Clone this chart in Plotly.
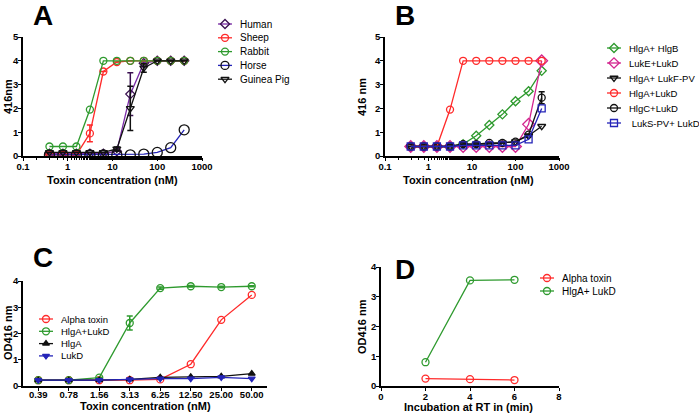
import plotly.graph_objects as go

# ---------------- data ----------------
conc_ab = [0.39, 0.78, 1.56, 3.125, 6.25, 12.5, 25, 50, 100, 200, 400]

a_human = [0.1, 0.1, 0.1, 0.1, 0.1, 0.2, 2.6, 3.9, 4.0, 4.0, 4.0]
a_human_err = [0, 0, 0, 0, 0, 0, 0.9, 0.05, 0, 0, 0]
a_sheep = [0.05, 0.05, 0.05, 0.95, 3.55, 3.95, 4.0, 4.0, 4.0, 4.0, 4.0]
a_sheep_err = [0, 0, 0, 0.35, 0, 0, 0, 0, 0, 0, 0]
a_rabbit = [0.4, 0.4, 0.4, 1.95, 4.0, 4.0, 4.0, 4.0, 4.0, 4.0, 4.0]
a_horse = [0.05, 0.05, 0.05, 0.05, 0.05, 0.05, 0.05, 0.08, 0.15, 0.35, 1.1]
a_guinea = [0.15, 0.15, 0.15, 0.15, 0.15, 0.3, 2.0, 3.7, 4.0, 4.0, 4.0]
a_guinea_err = [0, 0, 0, 0, 0, 0.08, 0.93, 0.18, 0, 0, 0]

b_hlga_hlgb = [0.4, 0.4, 0.4, 0.4, 0.5, 0.85, 1.3, 1.75, 2.3, 2.72, 3.58]
b_luke_lukd = [0.4, 0.4, 0.4, 0.4, 0.4, 0.4, 0.4, 0.4, 0.4, 1.33, 4.0]
b_hlga_lukfpv = [0.4, 0.4, 0.4, 0.4, 0.5, 0.5, 0.5, 0.55, 0.6, 0.85, 1.25]
b_hlga_lukd = [0.4, 0.4, 0.4, 1.95, 4.0, 4.0, 4.0, 4.0, 4.0, 4.0, 4.0]
b_hlgc_lukd = [0.4, 0.4, 0.4, 0.4, 0.5, 0.5, 0.55, 0.55, 0.6, 0.9, 2.45]
b_hlgc_lukd_err = [0, 0, 0, 0, 0, 0, 0, 0, 0, 0, 0.25]
b_luks_lukd = [0.4, 0.4, 0.4, 0.4, 0.45, 0.45, 0.45, 0.45, 0.45, 0.7, 2.0]

c_categories = ["0.39", "0.78", "1.56", "3.13", "6.25", "12.50", "25.00", "50.00"]
c_alpha = [0.22, 0.22, 0.22, 0.22, 0.25, 0.83, 2.52, 3.47]
c_hlga_lukd = [0.22, 0.22, 0.32, 2.4, 3.73, 3.8, 3.77, 3.8]
c_hlga_lukd_err = [0, 0, 0, 0.27, 0.04, 0.03, 0.03, 0.02]
c_hlga = [0.22, 0.22, 0.22, 0.25, 0.33, 0.35, 0.37, 0.47]
c_lukd = [0.22, 0.22, 0.22, 0.25, 0.28, 0.28, 0.33, 0.28]

d_time = [2, 4, 6]
d_alpha = [0.25, 0.23, 0.2]
d_hlga_lukd = [0.8, 3.55, 3.57]

# ---------------- styles ----------------
RED = "#FF2A2A"
GREEN = "#2E9A2E"
BLUE = "#2424B8"
PURPLE = "#7A2BA8"
MAGENTA = "#D3258F"
BLACK = "#111111"
FONT = "Liberation Sans, Arial, sans-serif"

W, H = 699, 415


def px_x(p):
    return p / W


def px_y(p):
    return 1 - p / H


fig = go.Figure()
ann = []

# legend groups: (left px, first row px, row spacing px, font size)
LEGENDS = {
    "A": (218, 24, 13.8, 10),
    "B": (607, 48, 15.0, 9.5),
    "C": (39, 319, 12.3, 9.5),
    "D": (540, 278, 13.0, 10),
}
legend_count = {k: 0 for k in LEGENDS}


def legend_entry(group, name, color, symbol, mcolor, size):
    x0, y0, dy, fs = LEGENDS[group]
    i = legend_count[group]
    legend_count[group] += 1
    yy = y0 + i * dy
    fig.add_trace(go.Scatter(
        x=[x0, x0 + 7, x0 + 14], y=[yy, yy, yy], mode="lines+markers",
        line=dict(color=color, width=1.3),
        marker=dict(symbol=symbol, size=[0, min(size, 8), 0], opacity=[0, 1, 0],
                    color=mcolor, line=dict(color=mcolor, width=1.3)),
        xaxis="x5", yaxis="y5", showlegend=False, hoverinfo="skip",
    ))
    ann.append(dict(x=px_x(x0 + 20), y=px_y(yy), xref="paper", yref="paper", text=name,
                    showarrow=False, xanchor="left", yanchor="middle",
                    font=dict(size=fs, color="black", family=FONT)))


def add(x, y, name, color, symbol, xa, ya, group, mcolor=None, size=7, err=None):
    mc = mcolor or color
    fig.add_trace(go.Scatter(
        x=x, y=y, name=name, mode="lines+markers",
        line=dict(color=color, width=1.3),
        marker=dict(symbol=symbol, size=size, color=mc, line=dict(color=mc, width=1.3)),
        error_y=(dict(type="data", array=err, visible=True, color=mc,
                      thickness=1.5, width=3) if err is not None else None),
        xaxis=xa, yaxis=ya, showlegend=False,
    ))
    legend_entry(group, name, color, symbol, mc, size)


# Panel A
add(conc_ab, a_human, "Human", PURPLE, "diamond-open", "x", "y", "A", mcolor="#3A1050", err=a_human_err)
add(conc_ab, a_sheep, "Sheep", RED, "circle-open", "x", "y", "A", err=a_sheep_err)
add(conc_ab, a_rabbit, "Rabbit", GREEN, "circle-open", "x", "y", "A")
add(conc_ab, a_horse, "Horse", BLUE, "circle-open", "x", "y", "A", mcolor=BLACK, size=10)
add(conc_ab, a_guinea, "Guinea Pig", BLACK, "triangle-down-open", "x", "y", "A", err=a_guinea_err)

# Panel B
add(conc_ab, b_hlga_hlgb, "HlgA+ HlgB", GREEN, "diamond-open", "x2", "y2", "B")
add(conc_ab, b_luke_lukd, "LukE+LukD", MAGENTA, "diamond-open", "x2", "y2", "B", size=9)
add(conc_ab, b_hlga_lukfpv, "HlgA+ LukF-PV", BLACK, "triangle-down-open", "x2", "y2", "B")
add(conc_ab, b_hlga_lukd, "HlgA+LukD", RED, "circle-open", "x2", "y2", "B")
add(conc_ab, b_hlgc_lukd, "HlgC+LukD", BLACK, "circle-open", "x2", "y2", "B", err=b_hlgc_lukd_err)
add(conc_ab, b_luks_lukd, " LukS-PV+ LukD", BLUE, "square-open", "x2", "y2", "B")

# Panel C
add(c_categories, c_alpha, "Alpha toxin", RED, "circle-open", "x3", "y3", "C")
add(c_categories, c_hlga_lukd, "HlgA+LukD", GREEN, "circle-open", "x3", "y3", "C", err=c_hlga_lukd_err)
add(c_categories, c_hlga, "HlgA", BLACK, "triangle-up", "x3", "y3", "C", size=6)
add(c_categories, c_lukd, "LukD", BLUE, "triangle-down", "x3", "y3", "C", size=6)

# Panel D
add(d_time, d_alpha, "Alpha toxin", RED, "circle-open", "x4", "y4", "D")
add(d_time, d_hlga_lukd, "HlgA+ LukD", GREEN, "circle-open", "x4", "y4", "D")

tickfont = dict(family=FONT, size=9.5, color="black")
common = dict(showline=True, linecolor="black", linewidth=1.5, ticks="outside",
              ticklen=3, tickwidth=1.3, tickcolor="black", showgrid=False,
              zeroline=False, tickfont=tickfont, ticklabelstandoff=-2)

logticks = [0.1, 1, 10, 100, 1000]
logtext = ["<b>0.1</b>", "<b>1</b>", "<b>10</b>", "<b>100</b>", "<b>1000</b>"]
minor = dict(ticks="outside", ticklen=2, tickcolor="black", showgrid=False)

common_c = dict(common)
common_c["ticklabelstandoff"] = -4

fig.update_layout(
    width=W, height=H, margin=dict(l=0, r=0, t=0, b=0, autoexpand=False),
    paper_bgcolor="white", plot_bgcolor="rgba(0,0,0,0)",
    font=dict(family=FONT, color="black"),
    showlegend=False,
    xaxis=dict(domain=[px_x(23), px_x(202)], type="log", range=[-1, 3],
               tickvals=logticks, ticktext=logtext, anchor="y", minor=minor, **common),
    yaxis=dict(domain=[px_y(156), px_y(37)], range=[0, 5], dtick=1, anchor="x",
               tickprefix="<b>", ticksuffix="</b>", **common),
    xaxis2=dict(domain=[px_x(385), px_x(559)], type="log", range=[-1, 3],
                tickvals=logticks, ticktext=logtext, anchor="y2", minor=minor, **common),
    yaxis2=dict(domain=[px_y(156), px_y(37)], range=[0, 5], dtick=1, anchor="x2",
                tickprefix="<b>", ticksuffix="</b>", **common),
    xaxis3=dict(domain=[px_x(23), px_x(267)], type="category", range=[-0.5, 7.5],
                anchor="y3", tickprefix="<b>", ticksuffix="</b>", **common_c),
    yaxis3=dict(domain=[px_y(386), px_y(281)], range=[0, 4], dtick=1, anchor="x3",
                tickprefix="<b>", ticksuffix="</b>", **common),
    xaxis4=dict(domain=[px_x(381), px_x(559)], range=[0, 8], dtick=2, anchor="y4",
                tickprefix="<b>", ticksuffix="</b>", **common),
    yaxis4=dict(domain=[px_y(386), px_y(267)], range=[0, 4], dtick=1, anchor="x4",
                tickprefix="<b>", ticksuffix="</b>", **common),
    # overlay axis in pixel units, used only for legend samples
    xaxis5=dict(domain=[0, 1], range=[0, W], visible=False, fixedrange=True, anchor="y5"),
    yaxis5=dict(domain=[0, 1], range=[H, 0], visible=False, fixedrange=True, anchor="x5"),
)


def text(x, y, t, size, angle=0):
    ann.append(dict(x=px_x(x), y=px_y(y), xref="paper", yref="paper", text=f"<b>{t}</b>",
                    showarrow=False, textangle=angle, xanchor="center", yanchor="middle",
                    font=dict(size=size, color="black", family=FONT)))


# panel letters
text(43, 16, "A", 28)
text(405, 16, "B", 28)
text(43, 257, "C", 28)
text(405, 269, "D", 28)
# axis titles
text(8, 97, "416nm", 11, angle=-90)
text(112, 180, "Toxin concentration (nM)", 11)
text(362, 97, "416 nm", 11, angle=-90)
text(468, 180, "Toxin concentration (nM)", 11)
text(8, 333, "OD416 nm", 11, angle=-90)
text(145, 406, "Toxin concentration (nM)", 11)
text(362, 327, "OD416 nm", 11, angle=-90)
text(468, 407, "Incubation at RT in (min)", 11)

fig.update_layout(annotations=ann)
fig.write_html("out.html", config={"displayModeBar": False},
               post_script="document.body.style.margin='0';document.body.style.overflow='hidden';")
